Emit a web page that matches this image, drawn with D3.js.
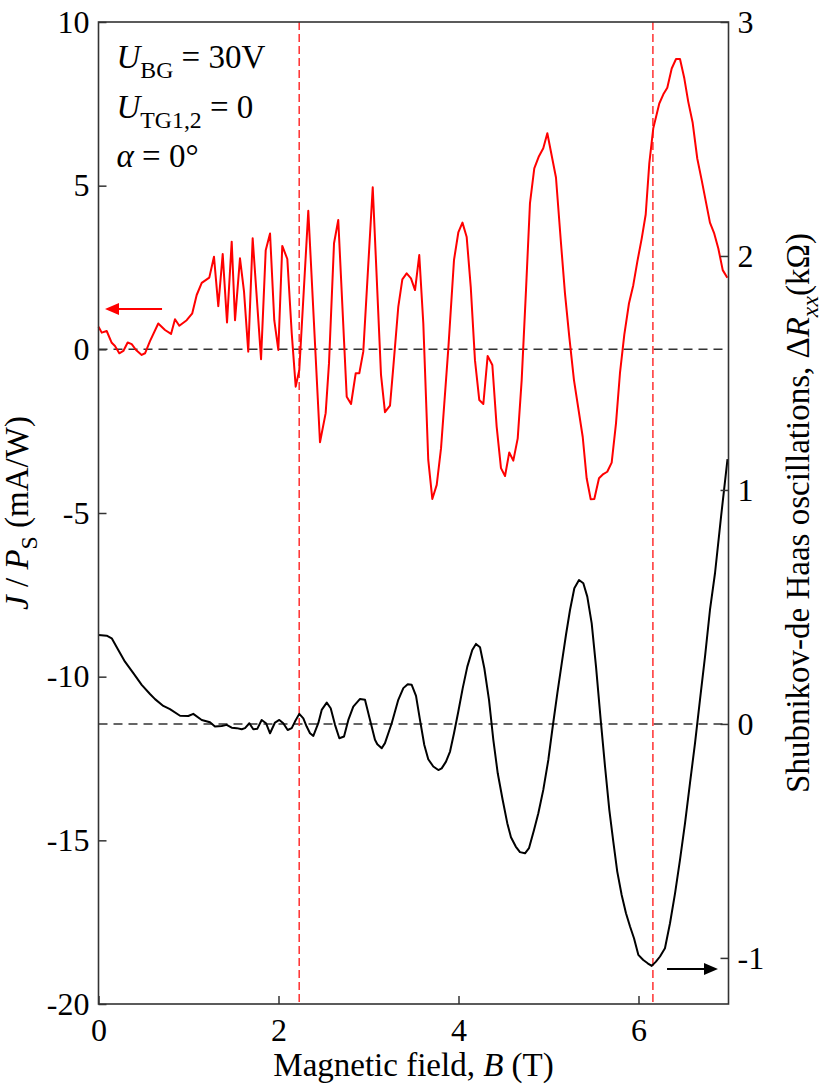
<!DOCTYPE html>
<html>
<head>
<meta charset="utf-8">
<script src="https://cdn.jsdelivr.net/npm/d3@7"></script>
<style>
  body { margin: 0; background: #fff; }
  svg text { font-family: "Liberation Serif", "Times New Roman", serif !important; fill: #000; white-space: pre; }
</style>
</head>
<body>
<div id="chart"></div>
<script>
// red curve: photoresponse J/Ps (left axis)
var redB = [0.00,0.036,0.091,0.147,0.183,0.231,0.276,0.324,0.369,0.417,0.48,0.517,0.572,0.664,0.739,0.806,0.85,0.898,0.98,1.042,
  1.091,1.147,1.231,1.283,1.331,1.38,1.428,1.48,1.517,1.572,1.617,1.664,1.713,1.806,1.858,1.906,1.953,1.998,2.042,2.098,
  2.147,2.191,2.231,2.331,2.461,2.524,2.561,2.617,2.664,2.758,2.806,2.858,2.898,2.942,3.047,3.139,3.183,3.239,3.276,3.331,
  3.376,3.424,3.472,3.517,3.564,3.609,3.664,3.709,3.758,3.806,3.887,3.95,3.998,4.044,4.091,4.136,4.183,4.231,4.276,4.324,
  4.376,4.424,4.472,4.517,4.564,4.609,4.658,4.702,4.75,4.794,4.842,4.894,4.942,4.987,5.083,5.136,5.183,5.231,5.283,5.38,
  5.424,5.469,5.509,5.561,5.609,5.653,5.702,5.75,5.794,5.842,5.894,5.942,5.987,6.036,6.08,6.12,6.164,6.231,6.276,6.32,
  6.369,6.417,6.461,6.509,6.553,6.602,6.653,6.702,6.794,6.839,6.887,6.936,6.987];
var redJ = [0.69,0.51,0.56,0.20,0.10,-0.12,-0.05,0.21,0.16,-0.02,-0.17,-0.12,0.25,0.79,0.59,0.47,0.92,0.72,0.89,1.10,
  1.66,2.03,2.19,2.83,1.32,2.91,0.82,3.29,0.89,2.78,1.76,-0.07,3.39,-0.30,3.03,3.54,0.89,-0.02,3.16,2.76,
  0.49,-1.14,-0.63,4.23,-2.84,-1.95,-0.43,3.24,3.95,-1.45,-1.67,-0.73,-0.73,-0.07,4.95,-0.78,-1.92,-1.72,-0.53,1.30,
  2.14,2.32,2.17,1.81,2.88,0.79,-3.38,-4.57,-4.14,-3.02,0.03,2.73,3.57,3.87,3.43,1.91,-0.33,-1.55,-1.67,-0.20,
  -0.48,-2.36,-3.63,-3.87,-3.15,-3.40,-2.72,-0.94,1.81,4.46,5.53,5.90,6.14,6.60,5.25,3.34,1.71,0.38,-0.94,-2.67,
  -3.94,-4.58,-4.57,-3.94,-3.81,-3.74,-3.46,-2.26,-0.73,0.44,1.40,1.96,2.68,3.39,4.12,5.68,6.75,7.51,7.79,7.99,
  8.58,8.87,8.87,8.28,7.56,6.92,5.83,5.17,3.87,3.56,3.08,2.42,2.19];

// black curve: SdH oscillations dRxx (right axis)
var blackB = [0.00,0.091,0.147,0.22,0.294,0.387,0.48,0.572,0.628,0.72,0.794,0.906,0.998,1.053,1.147,1.239,1.294,1.369,1.424,1.48,
  1.536,1.591,1.628,1.676,1.72,1.764,1.813,1.861,1.906,1.961,2.009,2.053,2.102,2.147,2.183,2.231,2.276,2.313,2.35,2.387,
  2.442,2.48,2.536,2.58,2.628,2.676,2.728,2.776,2.831,2.906,2.961,3.017,3.072,3.098,3.147,3.183,3.258,3.331,3.387,3.436,
  3.48,3.528,3.572,3.62,3.664,3.72,3.776,3.813,3.861,3.906,3.95,3.998,4.047,4.098,4.153,4.194,4.239,4.287,4.339,4.387,
  4.436,4.491,4.542,4.583,4.636,4.683,4.739,4.783,4.839,4.887,4.942,4.998,5.047,5.098,5.147,5.194,5.239,5.287,5.339,5.387,
  5.431,5.48,5.528,5.58,5.628,5.676,5.72,5.764,5.813,5.861,5.906,5.95,5.998,6.053,6.102,6.147,6.194,6.239,6.294,6.35,
  6.406,6.461,6.517,6.572,6.628,6.683,6.739,6.794,6.85,6.917,6.989];
var blackR = [0.38,0.377,0.366,0.316,0.266,0.217,0.167,0.128,0.106,0.077,0.063,0.035,0.034,0.043,0.017,0.007,-0.011,-0.009,-0.004,-0.016,
  -0.018,-0.023,-0.018,0.003,-0.023,-0.021,0.017,0.003,-0.040,0.006,0.017,0.003,-0.026,-0.018,0.01,0.043,0.024,-0.011,-0.04,-0.051,
  0.003,0.06,0.091,0.067,-0.004,-0.061,-0.054,0.017,0.074,0.107,0.103,0.017,-0.068,-0.087,-0.104,-0.082,0.003,0.103,0.153,0.17,
  0.167,0.12,0.017,-0.09,-0.151,-0.182,-0.197,-0.19,-0.161,-0.118,-0.04,0.053,0.153,0.245,0.316,0.342,0.328,0.238,0.103,-0.068,
  -0.211,-0.325,-0.424,-0.484,-0.524,-0.548,-0.553,-0.531,-0.453,-0.382,-0.282,-0.154,-0.011,0.131,0.259,0.38,0.487,0.58,0.615,0.601,
  0.544,0.43,0.245,0.017,-0.182,-0.368,-0.503,-0.631,-0.731,-0.809,-0.866,-0.916,-0.987,-1.009,-1.023,-1.034,-1.016,-0.994,-0.959,-0.852,
  -0.724,-0.581,-0.424,-0.253,-0.082,0.103,0.288,0.487,0.644,0.885,1.132];

var xTicks = [0, 2, 4, 6];
var leftTicks = [-20, -15, -10, -5, 0, 5, 10];
var rightTicks = [-1, 0, 1, 2, 3];
var markerB = [2.23, 6.16];   // red dashed guide lines

var margin = { top: 22, left: 98.5, right: 101.5, bottom: 83 },
    width = 830 - margin.left - margin.right,
    height = 1087 - margin.top - margin.bottom;

var svg = d3.select("#chart")
  .append("svg")
  .attr("width", 830)
  .attr("height", 1087)
  .attr("font-family", "Liberation Serif")
  .append("g")
  .attr("transform", "translate(" + margin.left + "," + margin.top + ")");

var x = d3.scaleLinear().domain([0, 7]).range([0, width]);
var yL = d3.scaleLinear().domain([-20, 10]).range([height, 0]);
var yR = d3.scaleLinear().domain([-1.197, 3]).range([height, 0]);

var fs = 32;

// subscript / italic text helper
function rich(t, parts, size) {
  var shift = 0;
  parts.forEach(function(p) {
    var s = t.append("tspan").text(p[0]);
    var target = p[2] ? size * 0.3 : 0;
    s.attr("dy", target - shift);
    shift = target;
    if (p[2]) s.style("font-size", (size * 0.72) + "px");
    if (p[1]) s.style("font-style", "italic");
  });
}

// dashed reference lines
svg.append("line")
  .attr("x1", 0).attr("x2", width)
  .attr("y1", yL(0)).attr("y2", yL(0))
  .attr("stroke", "#333").attr("stroke-width", 1.5)
  .attr("stroke-dasharray", "9,6");

svg.append("line")
  .attr("x1", 0).attr("x2", width)
  .attr("y1", yR(0)).attr("y2", yR(0))
  .attr("stroke", "#333").attr("stroke-width", 1.5)
  .attr("stroke-dasharray", "9,6");

svg.selectAll(".marker")
  .data(markerB)
  .enter().append("line")
  .attr("class", "marker")
  .attr("x1", function(d) { return x(d); })
  .attr("x2", function(d) { return x(d); })
  .attr("y1", 0).attr("y2", height)
  .attr("stroke", "#ff3030").attr("stroke-width", 1.5)
  .attr("stroke-dasharray", "8,4");

// curves
var redLine = d3.line()
  .x(function(d, i) { return x(redB[i]); })
  .y(function(d) { return yL(d); });

svg.append("path")
  .datum(redJ)
  .attr("d", redLine)
  .attr("fill", "none")
  .attr("stroke", "#ff0000")
  .attr("stroke-width", 2)
  .attr("stroke-linejoin", "round");

var blackLine = d3.line()
  .x(function(d, i) { return x(blackB[i]); })
  .y(function(d) { return yR(d); });

svg.append("path")
  .datum(blackR)
  .attr("d", blackLine)
  .attr("fill", "none")
  .attr("stroke", "#000")
  .attr("stroke-width", 2)
  .attr("stroke-linejoin", "round");

// axes
var plain = function(d) { return String(d); };

var xAxis = svg.append("g")
  .attr("transform", "translate(0," + height + ")")
  .call(d3.axisBottom(x).tickValues(xTicks).tickSize(-8).tickSizeOuter(0).tickPadding(14).tickFormat(plain));

var lAxis = svg.append("g")
  .call(d3.axisLeft(yL).tickValues(leftTicks).tickSize(-8).tickSizeOuter(0).tickPadding(9).tickFormat(plain));

var rAxis = svg.append("g")
  .attr("transform", "translate(" + width + ",0)")
  .call(d3.axisRight(yR).tickValues(rightTicks).tickSize(-8).tickSizeOuter(0).tickPadding(9).tickFormat(plain));

[xAxis, lAxis, rAxis].forEach(function(a) {
  a.attr("font-family", "Liberation Serif").attr("font-size", fs);
  a.select(".domain").remove();
  a.selectAll("line").attr("stroke", "#333").attr("stroke-width", 1.5);
  a.selectAll("text").attr("fill", "#000");
});

// frame
svg.append("rect")
  .attr("x", 0).attr("y", 0)
  .attr("width", width).attr("height", height)
  .attr("fill", "none")
  .attr("stroke", "#333")
  .attr("stroke-width", 1.6);

// arrows
function arrow(x1, x2, yy, color) {
  var dir = x2 > x1 ? 1 : -1;
  svg.append("line")
    .attr("x1", x1).attr("x2", x2 - dir * 10)
    .attr("y1", yy).attr("y2", yy)
    .attr("stroke", color).attr("stroke-width", 2);
  svg.append("path")
    .attr("d", "M" + x2 + "," + yy + "L" + (x2 - dir * 14) + "," + (yy - 6) + "L" + (x2 - dir * 14) + "," + (yy + 6) + "Z")
    .attr("fill", color);
}
arrow(x(0.706), x(0.072), yL(1.23), "#ff0000");
arrow(x(6.317), x(6.883), yR(-1.047), "#000");

// annotations
var ann = svg.append("g").style("font-size", "33px");
rich(ann.append("text").attr("x", 18).attr("y", 46), [["U", true], ["BG", false, true], [" = 30V"]], 33);
rich(ann.append("text").attr("x", 18).attr("y", 96), [["U", true], ["TG1,2", false, true], [" = 0"]], 33);
rich(ann.append("text").attr("x", 18).attr("y", 145), [["\u03b1", true], [" = 0\u00b0"]], 33);

// axis titles
var tfs = 33;
rich(svg.append("text")
  .attr("x", width / 2).attr("y", height + 72)
  .attr("text-anchor", "middle")
  .style("font-size", tfs + "px"),
  [["Magnetic field, "], ["B", true], [" (T)"]], tfs);

rich(svg.append("text")
  .attr("transform", "translate(" + (-71) + "," + (height / 2) + ") rotate(-90)")
  .attr("text-anchor", "middle")
  .style("font-size", tfs + "px"),
  [["J", true], [" / "], ["P", true], ["S", false, true], [" (mA/W)"]], tfs);

rich(svg.append("text")
  .attr("transform", "translate(" + (width + 80) + "," + (height / 2) + ") rotate(-90)")
  .attr("text-anchor", "middle")
  .style("font-size", tfs + "px"),
  [["Shubnikov-de Haas oscillations, \u0394"], ["R", true], ["xx", true, true], ["(k\u03a9)"]], tfs);
</script>
</body>
</html>
